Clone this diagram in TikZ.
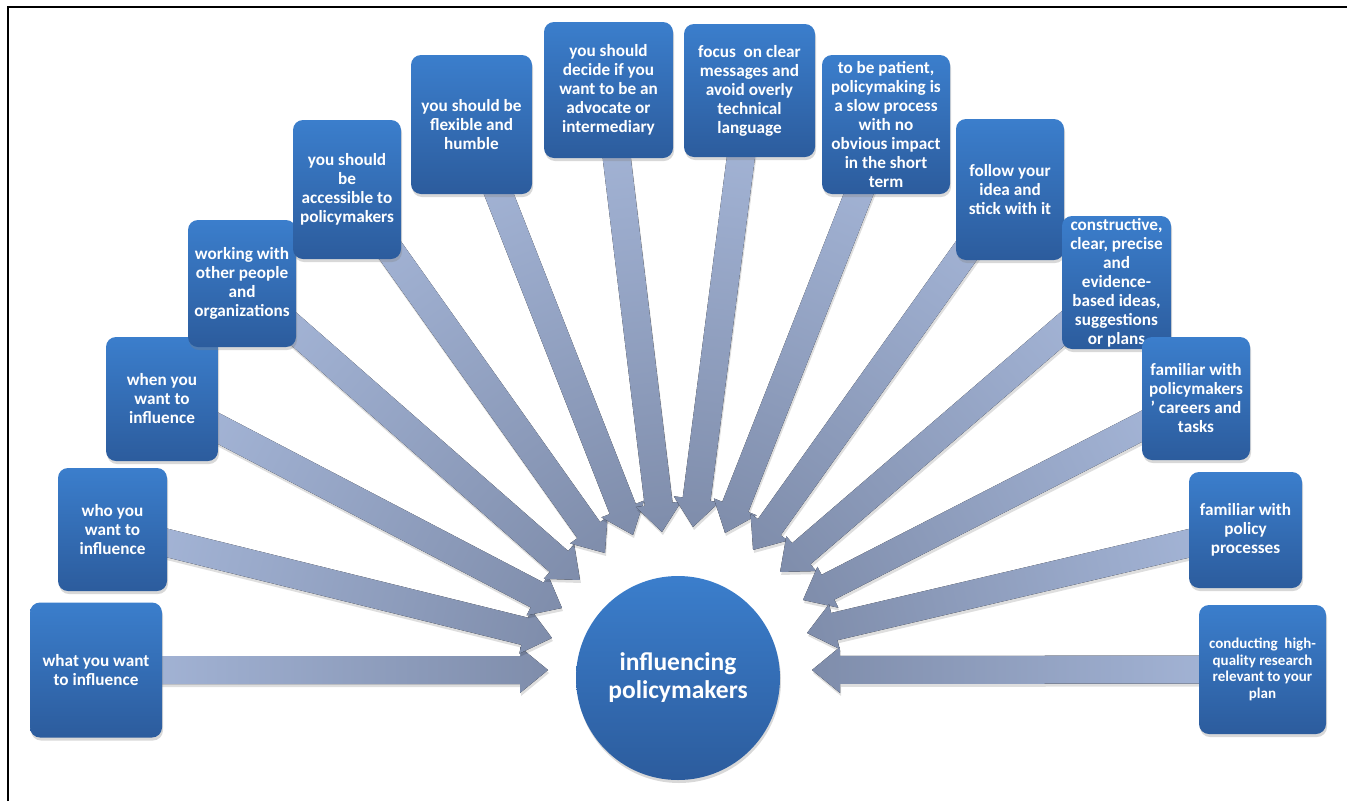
\documentclass[tikz,border=0pt]{standalone}
\usepackage{fontspec}
\setmainfont{Carlito}
\usetikzlibrary{calc,shadows}
\pgfdeclarelayer{bg}
\pgfsetlayers{bg,main}
\definecolor{boxtop}{HTML}{3B7ECC}
\definecolor{boxbot}{HTML}{2C5C9D}
\definecolor{arrlight}{HTML}{A7B8DA}
\definecolor{arrdark}{HTML}{7F8DAB}
\tikzset{
  ibox/.style={rounded corners=10pt, top color=boxtop, bottom color=boxbot,
    text=white, align=center, inner sep=2pt,
    font=\bfseries\fontsize{17.2}{19}\selectfont,
    drop shadow={opacity=0.3, shadow xshift=1pt, shadow yshift=-3pt}},
  hubnode/.style={circle, top color=boxtop, bottom color=boxbot, text=white,
    align=center, font=\bfseries\fontsize{25.5}{28}\selectfont,
    drop shadow={opacity=0.3, shadow xshift=1pt, shadow yshift=-3pt}},
  arrowbody/.style={left color=arrlight, right color=arrdark},
  arrowshadow/.style={fill=black, opacity=0.13},
}
\newcommand\arrowshape{(0pt,-14pt) -- ({\bal-28pt},-14pt) -- ({\bal-28pt},-23pt) -- (\bal,0pt) -- ({\bal-28pt},23pt) -- ({\bal-28pt},14pt) -- (0pt,14pt) -- cycle}
\newcommand\blockarrow[2]{%
  \path let \p1=(#1.center), \p2=(#2),
    \n1={veclen(\x2-\x1,\y2-\y1)}, \n2={atan2(\y2-\y1,\x2-\x1)} in
    \pgfextra{\xdef\bax{\x1}\xdef\bay{\y1}\xdef\bal{\n1}\xdef\baa{\n2}};
  \fill[arrowshadow, transform canvas={shift={({\bax+1pt},{\bay-3pt})}, rotate=\baa}] \arrowshape;
  \fill[arrowbody, transform canvas={shift={(\bax,\bay)}, rotate=\baa}] \arrowshape;
}
\begin{document}
\begin{tikzpicture}[x=1pt,y=-1pt]
\useasboundingbox (0,0) rectangle (1347,801);
\begin{pgfonlayer}{bg}
\fill[white] (0,0) rectangle (1347,801);
\end{pgfonlayer}
\draw[line width=2pt] (8,801) -- (8,7) -- (1347,7);

% boxes
\node[ibox, minimum width=132pt, minimum height=135pt] (b1) at (96,670) {what you want\\to influence};
\node[ibox, minimum width=109pt, minimum height=123pt] (b2) at (112.5,529.5) {who you\\want to\\influence};
\node[ibox, minimum width=112pt, minimum height=124pt] (b3) at (162,399) {when you\\want to\\influence};
\node[ibox, minimum width=108pt, minimum height=127pt] (b4) at (242,283.5) {working with\\other people\\and\\organizations};
\node[ibox, minimum width=108pt, minimum height=139pt] (b5) at (347,189.5) {you should\\be\\accessible to\\policymakers};
\node[ibox, minimum width=121pt, minimum height=139pt] (b6) at (471.5,124.5) {you should be\\flexible and\\humble};
\node[ibox, minimum width=129pt, minimum height=136pt] (b7) at (608.5,90) {you should\\decide if you\\want to be an\\advocate or\\intermediary};
\node[ibox, minimum width=131pt, minimum height=133pt] (b8) at (749.5,90.5) {focus~ on clear\\messages and\\avoid overly\\technical\\language};
\node[ibox, minimum width=128pt, minimum height=139pt] (b9) at (886,124.5) {to be patient,\\policymaking is\\a slow process\\with no\\obvious impact\\in the short\\term};
\node[ibox, minimum width=108pt, minimum height=141pt] (b10) at (1010,189.5) {follow your\\idea and\\stick with it};
\node[ibox, minimum width=109pt, minimum height=133pt] (b11) at (1116.5,282.5) {constructive,\\clear, precise\\and\\evidence-\\based ideas,\\suggestions\\or plans};
\node[ibox, minimum width=108pt, minimum height=123pt] (b12) at (1196,398.5) {familiar with\\policymakers\\’ careers and\\tasks};
\node[ibox, minimum width=113pt, minimum height=116pt] (b13) at (1245.5,530) {familiar with\\policy\\processes};
\node[ibox, minimum width=127pt, minimum height=129pt, font=\bfseries\fontsize{15}{16.7}\selectfont] (b14) at (1262.5,669.5) {conducting~ high-\\quality research\\relevant to your\\plan};

% hub
\node[hubnode, minimum size=204pt] (hub) at (678,678) {influencing\\policymakers};

% arrow tips
\coordinate (t1) at (548,670);
\coordinate (t2) at (552,638);
\coordinate (t3) at (562,608);
\coordinate (t4) at (580,580);
\coordinate (t5) at (605,553);
\coordinate (t6) at (633,535);
\coordinate (t7) at (662,532);
\coordinate (t8) at (693,527);
\coordinate (t9) at (725,533);
\coordinate (t10) at (753,550);
\coordinate (t11) at (780,572);
\coordinate (t12) at (803,600);
\coordinate (t13) at (807,633);
\coordinate (t14) at (812,670);

\begin{pgfonlayer}{bg}
\foreach \i in {1,...,14} {\blockarrow{b\i}{t\i}}
\end{pgfonlayer}
\end{tikzpicture}
\end{document}
